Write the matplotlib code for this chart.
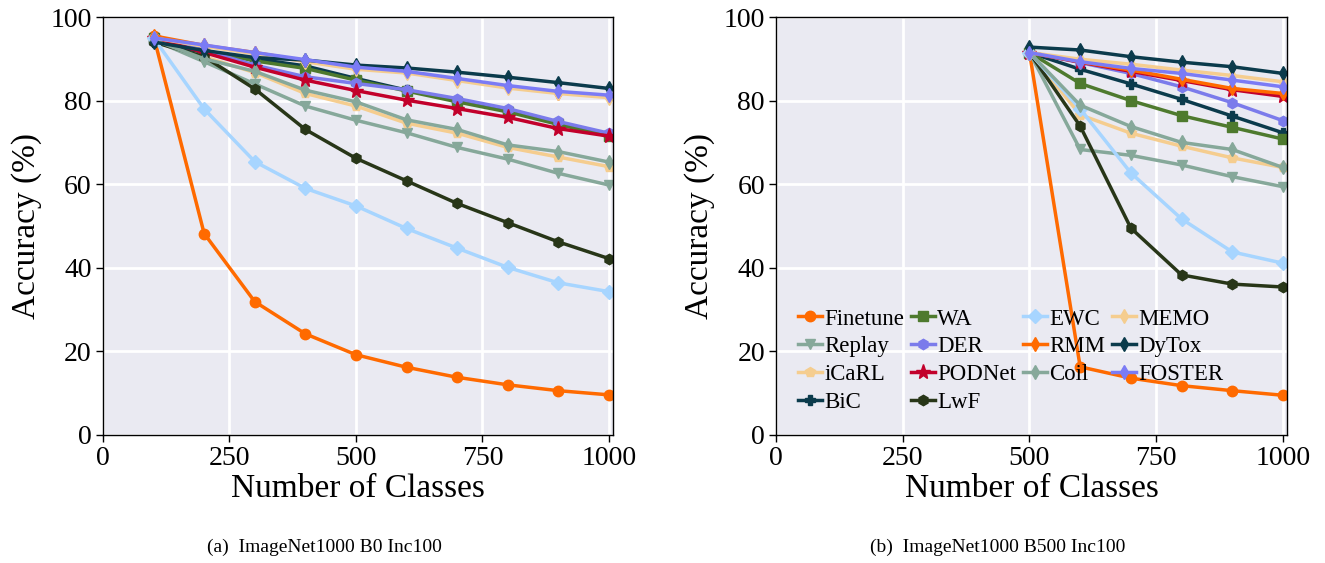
import numpy as np
import matplotlib
matplotlib.use('Agg')
import matplotlib.pyplot as plt

plt.rcParams['font.family'] = ['Liberation Serif', 'DejaVu Serif']

methods = ['Finetune', 'Replay', 'iCaRL', 'BiC', 'WA', 'DER', 'PODNet', 'LwF',
           'EWC', 'RMM', 'Coil', 'MEMO', 'DyTox', 'FOSTER']
colors = ['#FF6A00', '#86A89A', '#F5CD8F', '#0B3B4C', '#4E7A2E', '#7B7BEB', '#C2002B', '#283618',
          '#A7D5FF', '#FF6A00', '#86A89A', '#F5CD8F', '#0B3B4C', '#7B7BF5']
markers = ['o', 'v', 'p', 'P', 's', 'h', '*', 'h', 'D', 'd', 'd', 'd', 'd', 'd']

# (a) ImageNet1000 B0 Inc100
classes_a = [100, 200, 300, 400, 500, 600, 700, 800, 900, 1000]
acc_a = {
    'Finetune': [95.5, 48.2, 31.9, 24.2, 19.2, 16.2, 13.8, 12.0, 10.6, 9.6],
    'Replay':   [94.5, 89.3, 84.0, 78.7, 75.3, 72.3, 68.8, 66.0, 62.6, 59.8],
    'iCaRL':    [94.5, 90.5, 86.7, 81.7, 78.7, 74.6, 72.2, 68.8, 66.5, 64.2],
    'BiC':      [94.0, 91.5, 90.0, 88.3, 85.3, 82.5, 80.0, 77.6, 74.5, 71.7],
    'WA':       [95.0, 92.0, 89.5, 87.7, 84.9, 82.3, 79.7, 77.3, 74.3, 71.5],
    'DER':      [95.0, 92.0, 88.5, 85.7, 84.1, 82.6, 80.5, 78.1, 75.0, 72.2],
    'PODNet':   [95.0, 91.5, 88.0, 84.9, 82.4, 80.1, 78.1, 76.0, 73.3, 71.5],
    'LwF':      [94.0, 90.5, 82.8, 73.1, 66.2, 60.8, 55.4, 50.8, 46.2, 42.2],
    'EWC':      [95.0, 78.0, 65.4, 59.0, 54.8, 49.4, 44.7, 40.1, 36.4, 34.3],
    'RMM':      [95.5, 93.2, 91.5, 89.5, 87.7, 86.8, 85.0, 83.3, 81.9, 81.0],
    'Coil':     [94.5, 90.0, 87.0, 82.5, 79.7, 75.4, 73.1, 69.4, 67.8, 65.3],
    'MEMO':     [95.0, 93.0, 91.2, 89.3, 87.5, 86.6, 84.8, 83.0, 81.7, 80.7],
    'DyTox':    [94.0, 92.0, 90.3, 89.7, 88.5, 87.8, 86.8, 85.6, 84.3, 82.9],
    'FOSTER':   [95.0, 93.3, 91.5, 89.8, 88.0, 87.0, 85.3, 83.6, 82.2, 81.3],
}

# (b) ImageNet1000 B500 Inc100
classes_b = [500, 600, 700, 800, 900, 1000]
acc_b = {
    'Finetune': [91.5, 16.3, 13.6, 11.8, 10.6, 9.5],
    'Replay':   [91.5, 68.3, 66.9, 64.6, 61.8, 59.4],
    'iCaRL':    [91.5, 76.6, 72.2, 69.1, 66.3, 64.0],
    'BiC':      [91.5, 87.5, 84.0, 80.3, 76.3, 72.3],
    'WA':       [91.5, 84.1, 80.0, 76.4, 73.6, 70.8],
    'DER':      [91.5, 89.1, 86.5, 83.3, 79.5, 75.2],
    'PODNet':   [91.5, 89.2, 87.0, 84.8, 82.6, 81.0],
    'LwF':      [91.5, 73.9, 49.5, 38.3, 36.1, 35.4],
    'EWC':      [91.5, 78.0, 62.7, 51.7, 43.8, 41.1],
    'RMM':      [91.5, 89.3, 87.3, 85.1, 82.9, 81.7],
    'Coil':     [91.5, 78.9, 73.8, 70.0, 68.3, 64.0],
    'MEMO':     [91.5, 89.9, 88.7, 87.3, 86.0, 84.5],
    'DyTox':    [92.8, 92.1, 90.5, 89.2, 88.1, 86.5],
    'FOSTER':   [91.5, 89.3, 87.7, 86.5, 84.9, 83.3],
}

captions = ['(a)  ImageNet1000 B0 Inc100', '(b)  ImageNet1000 B500 Inc100']

fig = plt.figure(figsize=(13.25, 5.63), dpi=100)
ax1 = fig.add_axes([0.0777, 0.2274, 0.3849, 0.7424])
ax2 = fig.add_axes([0.5857, 0.2274, 0.3856, 0.7424])

for ax, xs, acc in [(ax1, classes_a, acc_a), (ax2, classes_b, acc_b)]:
    ax.set_facecolor('#EAEAF2')
    ax.grid(True, color='white', linewidth=2)
    ax.set_axisbelow(True)
    for name, c, m in zip(methods, colors, markers):
        ms = 11 if m == '*' else 7.5
        ax.plot(xs, acc[name], color=c, marker=m, markersize=ms, linewidth=2.5, label=name)
    ax.set_xlim(0, 1008)
    ax.set_ylim(0, 100)
    ax.set_xticks([0, 250, 500, 750, 1000])
    ax.set_yticks([0, 20, 40, 60, 80, 100])
    ax.tick_params(axis='both', labelsize=20, direction='out', length=5, width=1,
                   color='black', pad=3)
    for sp in ax.spines.values():
        sp.set_color('black')
        sp.set_linewidth(1)
    ax.set_xlabel('Number of Classes', fontsize=24, labelpad=2)
    ax.set_ylabel('Accuracy (%)', fontsize=24, labelpad=6)

ax2.legend(loc='lower left', bbox_to_anchor=(0.025, 0.03), ncol=4, frameon=False,
           fontsize=16.5, handlelength=1.05, handletextpad=0.1, columnspacing=0.3,
           labelspacing=0.3, borderaxespad=0)

fig.text(0.245, 0.027, captions[0], ha='center', va='center', fontsize=14)
fig.text(0.753, 0.027, captions[1], ha='center', va='center', fontsize=14)

fig.savefig('out.png', dpi=100)
